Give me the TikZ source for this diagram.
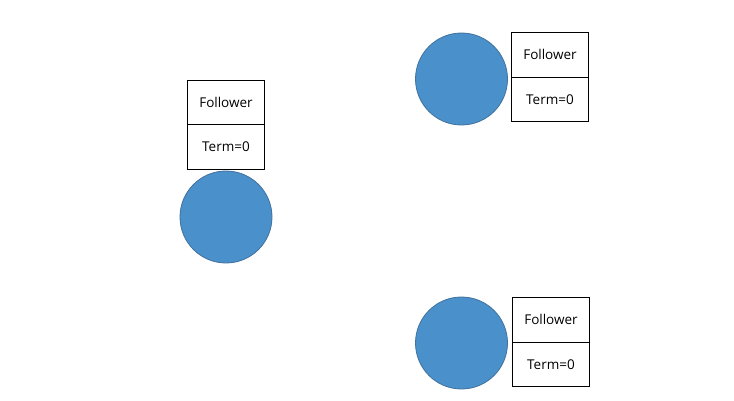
\documentclass[tikz,border=0pt]{standalone}
\usepackage{fontspec}
\setmainfont{Open Sans}
\usetikzlibrary{positioning}
\definecolor{nodeblue}{HTML}{4A90CB}
\definecolor{nodeedge}{HTML}{41719C}
\begin{document}
\begin{tikzpicture}[x=1pt,y=-1pt]
	\tikzset{n/.style={circle,draw=nodeedge,fill=nodeblue,line width=0.8pt,minimum size=92pt,inner sep=0pt,outer sep=0pt},
	s/.style={rectangle,draw=black,line width=0.8pt,minimum width=77pt,minimum height=44.5pt,inner sep=0pt,outer sep=0pt,font=\fontsize{13.5}{16}\selectfont}}
	\useasboundingbox(0,0)rectangle(734,401);
	\foreach \i/\x/\y in {1/226/217,2/461.5/79,3/461.5/343}
	\path(\x,\y)node[n](C\i){};
	\node[s,above=2pt of C1](T1){Term=0};
	\node[s,above=0pt of T1](F1){Follower};
	\node[s,above right=2pt and 4pt of C2.east](F2){Follower};
	\node[s,below=0pt of F2](T2){Term=0};
	\node[s,above right=1pt and 5pt of C3.east](F3){Follower};
	\node[s,below=0pt of F3](T3){Term=0};
\end{tikzpicture}
\end{document}
